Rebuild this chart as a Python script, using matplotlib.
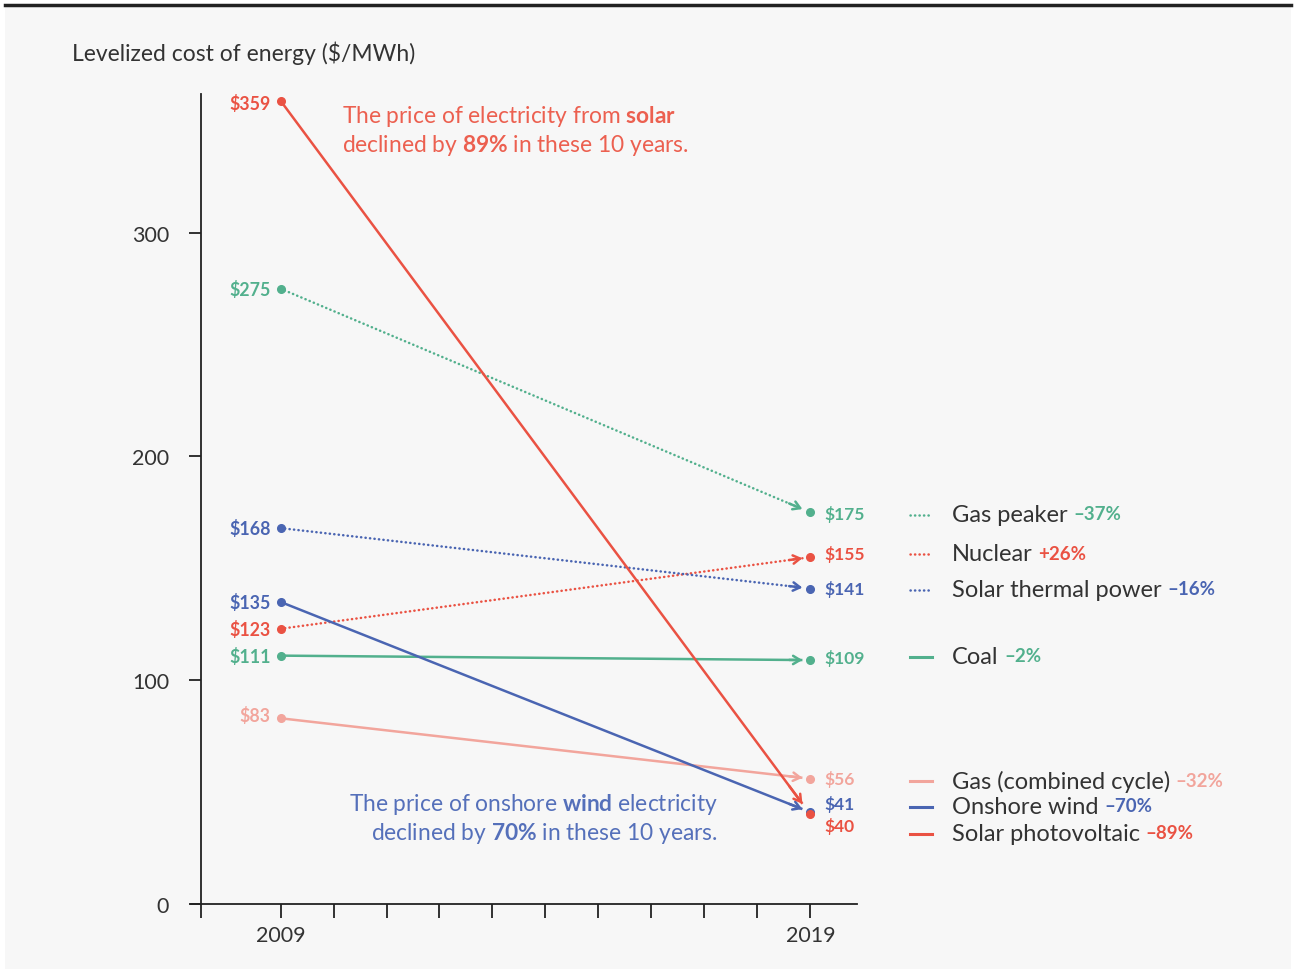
import matplotlib.pyplot as plt
import matplotlib.patches as patches
from matplotlib.lines import Line2D

plt.rcParams['font.family'] = ['Lato', 'DejaVu Sans']
plt.rcParams['mathtext.fontset'] = 'custom'
plt.rcParams['mathtext.rm'] = 'Lato'
plt.rcParams['mathtext.bf'] = 'Lato:bold'

# Levelized cost of energy, $/MWh
years = [2009, 2019]
sources = ['Gas peaker', 'Nuclear', 'Solar thermal power', 'Coal',
           'Gas (combined cycle)', 'Onshore wind', 'Solar photovoltaic']
cost_2009 = [275, 123, 168, 111, 83, 135, 359]
cost_2019 = [175, 155, 141, 109, 56, 41, 40]
changes = ['–37%', '+26%', '–16%', '–2%', '–32%', '–70%', '–89%']

green = '#52b08d'
red = '#ea5243'
blue = '#4a65b2'
pink = '#f2a59c'
colors = [green, red, blue, green, pink, blue, red]
dotted = (0, (0.1, 1.7))
styles = [dotted, dotted, dotted, '-', '-', '-', '-']

# legend rows and end label nudges (data units)
legend_y = [174, 156.5, 140.5, 110.5, 55, 43.5, 31.5]
label_shift_2009 = [0, 0, 0, 0, 1.5, 0, -1]
label_shift_2019 = [-0.7, 1.8, 0, 1.3, 0, 3.7, -4.7]

fig = plt.figure(figsize=(12.96, 9.70), dpi=100)
fig.patch.set_facecolor('white')
fig.patches.append(patches.Rectangle((5 / 1296, 0), 1286 / 1296, 963 / 970,
                                     transform=fig.transFigure,
                                     facecolor='#f7f7f7', edgecolor='none', zorder=-2))
fig.add_artist(Line2D([5 / 1296, 1291 / 1296], [964 / 970, 964 / 970],
                      transform=fig.transFigure, color='#222222', lw=2.5))

ax = fig.add_axes([191 / 1296, 65 / 970, (857 - 191) / 1296, (905 - 95) / 970])
ax.set_facecolor('none')
ax.set_xlim(2007.31, 2019.88)
ax.set_ylim(0, 362)


def along(v0, v1, x):
    return v0 + (v1 - v0) * (x - years[0]) / (years[1] - years[0])


for i, name in enumerate(sources):
    v0, v1 = cost_2009[i], cost_2019[i]
    c = colors[i]
    tip_x = 2018.85
    tip_y = along(v0, v1, tip_x)
    # connecting line, then a solid open head at its end
    ax.plot([years[0], tip_x], [v0, tip_y], color=c, lw=1.8, linestyle=styles[i],
            dash_capstyle='round', solid_capstyle='butt')
    ax.annotate('', xy=(tip_x, tip_y), xytext=(tip_x - 0.25, along(v0, v1, tip_x - 0.25)),
                arrowprops=dict(arrowstyle='->,head_length=0.5,head_width=0.3',
                                color=c, lw=1.8, shrinkA=0, shrinkB=0))
    ax.plot(years, [v0, v1], 'o', color=c, ms=5.5, zorder=3, lw=0)
    ax.text(years[0] - 0.19, v0 + label_shift_2009[i], f'${v0}', color=c,
            fontsize=12.8, fontweight='bold', ha='right', va='center')
    ax.text(years[1] + 0.26, v1 + label_shift_2019[i], f'${v1}', color=c,
            fontsize=12.5, fontweight='bold', ha='left', va='center')

    # legend row: line sample, name, change
    ly = legend_y[i]
    ax.plot([2020.88, 2021.30], [ly, ly], color=c, lw=2.2 if styles[i] == '-' else 1.8,
            linestyle=styles[i], dash_capstyle='round', clip_on=False)
    t = ax.text(2021.67, ly, name, color='#333333', fontsize=17.0,
                ha='left', va='center', clip_on=False)
    ax.annotate(changes[i], xy=(1, 0), xycoords=t, xytext=(4, 2.0),
                textcoords='offset points', color=c, fontsize=13.5,
                fontweight='bold', ha='left', va='bottom')

ax.text(2010.16, 358, 'The price of electricity from $\\mathbf{solar}$\n'
        'declined by $\\mathbf{89\\%}$ in these 10 years.',
        color='#ec6050', fontsize=16.4, ha='left', va='top', linespacing=1.22)
ax.text(2017.26, 38.5, 'The price of onshore $\\mathbf{wind}$ electricity\n'
        'declined by $\\mathbf{70\\%}$ in these 10 years.',
        color='#5570ba', fontsize=16.4, ha='right', va='center',
        multialignment='right', linespacing=1.22)

fig.text(72 / 1296, 1 - 53 / 970, 'Levelized cost of energy ($/MWh)',
         color='#333333', fontsize=16.5, ha='left', va='center')

for side in ['top', 'right']:
    ax.spines[side].set_visible(False)
ax.spines['left'].set_position(('data', 2007.5))
ax.spines['left'].set_bounds(0, 362)
for side in ['left', 'bottom']:
    ax.spines[side].set_color('#222222')
    ax.spines[side].set_linewidth(1.3)

ax.set_yticks([0, 100, 200, 300])
ax.tick_params(axis='y', length=9, width=1.3, color='#222222', labelsize=15.5,
               labelcolor='#333333', pad=14)
ax.set_xticks(range(2009, 2020))
ax.set_xticklabels(['2009'] + [''] * 9 + ['2019'])
ax.set_xticks([2007.5], minor=True)
ax.tick_params(axis='x', which='both', length=10, width=1.3, color='#222222',
               labelsize=15.5, labelcolor='#333333', pad=5)

fig.savefig('out.png', dpi=100, facecolor=fig.get_facecolor())
